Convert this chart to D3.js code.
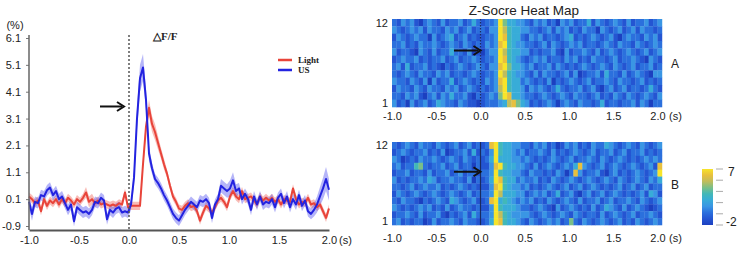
<!DOCTYPE html>
<html>
<head>
<meta charset="utf-8">
<script src="https://cdn.jsdelivr.net/npm/d3@7"></script>
<style>
  body { margin: 0; background: #fff; }
  svg text { font-family: "Liberation Sans", Arial, sans-serif; fill: #222; }
  svg text.serif { font-family: "Liberation Serif", "Times New Roman", serif; font-weight: bold; }
</style>
</head>
<body>
<div id="wrapper"></div>
<script>
// ---- data: mean trace (dF/F, %) with SEM, sampled every 0.03 s
const time = [
  -1.00, -0.97, -0.94, -0.91, -0.88, -0.85, -0.82, -0.79, -0.76, -0.73,
  -0.70, -0.67, -0.64, -0.61, -0.58, -0.55, -0.52, -0.49, -0.46, -0.43,
  -0.40, -0.37, -0.34, -0.31, -0.28, -0.25, -0.22, -0.19, -0.16, -0.13,
  -0.10, -0.07, -0.04, -0.01, 0.02, 0.05, 0.08, 0.11, 0.14, 0.17,
  0.20, 0.23, 0.26, 0.29, 0.32, 0.35, 0.38, 0.41, 0.44, 0.47,
  0.50, 0.53, 0.56, 0.59, 0.62, 0.65, 0.68, 0.71, 0.74, 0.77,
  0.80, 0.83, 0.86, 0.89, 0.92, 0.95, 0.98, 1.01, 1.04, 1.07,
  1.10, 1.13, 1.16, 1.19, 1.22, 1.25, 1.28, 1.31, 1.34, 1.37,
  1.40, 1.43, 1.46, 1.49, 1.52, 1.55, 1.58, 1.61, 1.64, 1.67,
  1.70, 1.73, 1.76, 1.79, 1.82, 1.85, 1.88, 1.91, 1.94, 1.97,
  2.00,
]
const lightMean = [
  0.2, 0.1, -0.05, 0.05, -0.35, 0.1, -0.15, 0.05, -0.05, 0.1,
  -0.1, 0.1, -0.05, 0.15, 0.05, -0.1, 0.1, 0.0, 0.15, 0.35,
  0.0, 0.1, -0.05, 0.05, -0.1, -0.05, -0.1, -0.15, -0.1, -0.15,
  -0.05, -0.1, 0.35, -0.2, -0.15, -0.15, -0.15, -0.15, 1.4, 2.8,
  3.5, 2.9, 2.6, 2.2, 1.8, 1.4, 1.05, 0.6, 0.2, 0.0,
  -0.25, -0.3, -0.15, -0.05, -0.2, -0.15, -0.35, -0.7, -0.4, -0.15,
  -0.25, -0.4, -0.2, 0.05, 0.15, 0.0, -0.2, 0.2, 0.4, 0.2,
  0.1, 0.4, 0.1, 0.15, 0.2, 0.05, -0.1, 0.2, 0.05, 0.15,
  0.05, 0.15, 0.0, 0.1, -0.1, 0.1, 0.05, 0.0, 0.5, 0.1,
  -0.1, 0.0, -0.05, 0.15, -0.1, -0.05, -0.2, -0.1, -0.35, -0.6,
  -0.25,
]
const lightSem = [
  0.15, 0.15, 0.15, 0.15, 0.15, 0.15, 0.15, 0.15, 0.15, 0.15,
  0.15, 0.15, 0.15, 0.15, 0.15, 0.15, 0.15, 0.15, 0.15, 0.2,
  0.2, 0.2, 0.15, 0.15, 0.15, 0.15, 0.15, 0.15, 0.15, 0.15,
  0.15, 0.15, 0.15, 0.15, 0.15, 0.15, 0.15, 0.15, 0.2, 0.25,
  0.3, 0.3, 0.3, 0.25, 0.2, 0.2, 0.15, 0.15, 0.15, 0.15,
  0.15, 0.15, 0.15, 0.15, 0.15, 0.15, 0.15, 0.15, 0.15, 0.15,
  0.15, 0.15, 0.15, 0.15, 0.15, 0.15, 0.15, 0.15, 0.15, 0.15,
  0.15, 0.15, 0.15, 0.15, 0.15, 0.15, 0.15, 0.15, 0.15, 0.15,
  0.15, 0.15, 0.15, 0.15, 0.15, 0.15, 0.15, 0.15, 0.15, 0.15,
  0.15, 0.15, 0.15, 0.15, 0.15, 0.15, 0.15, 0.15, 0.15, 0.15,
  0.15,
]
const usMean = [
  0.0, -0.45, 0.0, -0.05, 0.25, 0.2, 0.43, 0.53, 0.25, 0.4,
  0.1, 0.2, -0.05, -0.3, -0.1, -0.72, -0.2, -0.3, -0.4, -0.35,
  -0.45, -0.3, 0.0, -0.05, 0.15, 0.05, -0.65, -0.3, -0.4, -0.25,
  -0.2, -0.4, -0.35, -0.4, -0.1, 0.9, 3.1, 4.6, 5.0, 3.8,
  1.8, 1.25, 0.85, 0.7, 0.5, 0.25, 0.05, -0.2, -0.45, -0.6,
  -0.7, -0.5, -0.3, -0.15, 0.0, -0.1, -0.2, 0.05, 0.0, 0.1,
  -0.05, -0.6, -0.1, 0.1, 0.6, 0.5, 0.4, 0.5, 0.8, 0.4,
  0.5, 0.1, 0.3, 0.1, -0.3, 0.2, -0.1, 0.2, -0.1, 0.0,
  -0.05, 0.1, -0.2, 0.15, 0.3, -0.05, 0.2, -0.2, 0.1, -0.1,
  0.25, -0.15, 0.05, -0.35, -0.45, -0.3, -0.1, 0.2, 0.5, 0.85,
  0.45,
]
const usSem = [
  0.25, 0.25, 0.2, 0.2, 0.2, 0.2, 0.2, 0.2, 0.2, 0.2,
  0.2, 0.2, 0.2, 0.2, 0.2, 0.2, 0.2, 0.2, 0.2, 0.2,
  0.2, 0.2, 0.2, 0.2, 0.2, 0.2, 0.2, 0.2, 0.2, 0.2,
  0.2, 0.2, 0.2, 0.2, 0.2, 0.3, 0.4, 0.5, 0.5, 0.4,
  0.3, 0.2, 0.2, 0.2, 0.2, 0.2, 0.2, 0.2, 0.2, 0.2,
  0.2, 0.2, 0.2, 0.2, 0.2, 0.2, 0.2, 0.2, 0.2, 0.2,
  0.2, 0.2, 0.2, 0.2, 0.25, 0.25, 0.25, 0.3, 0.3, 0.25,
  0.2, 0.2, 0.2, 0.2, 0.2, 0.2, 0.2, 0.2, 0.2, 0.2,
  0.2, 0.2, 0.2, 0.2, 0.2, 0.2, 0.2, 0.2, 0.2, 0.2,
  0.2, 0.2, 0.2, 0.2, 0.2, 0.25, 0.3, 0.35, 0.4, 0.45,
  0.4,
]
const lineTicksY = [-0.9, 0.1, 1.1, 2.1, 3.1, 4.1, 5.1, 6.1]
const lineTicksX = [-1.0, -0.5, 0.0, 0.5, 1.0, 1.5, 2.0]

// ---- data: z-score heat maps, 12 trials x 61 bins of 0.05 s from -1.0 s
// each digit is a level: z = digit - 2 (so 0 -> -2 ... 9 -> 7)
const heatRows = [12, 11, 10, 9, 8, 7, 6, 5, 4, 3, 2, 1]
const heatTicksX = [-1.0, -0.5, 0.0, 0.5, 1.0, 1.5, 2.0]
const binWidth = 0.05
const heatA = [
  "21323 10232 13122 31242 12239 64433 21323 12032 31224 13212 32131 22312 3",
  "32123 23132 21323 12312 21339 75443 32212 31323 12132 20321 23123 13221 2",
  "13212 32203 12341 23121 12239 85442 13231 22123 41212 32123 10232 21323 1",
  "22312 13223 21232 13212 13238 95433 22123 13212 32312 21232 13221 32123 2",
  "31221 03213 12242 21301 02339 75443 31212 23103 12232 13123 21232 12312 3",
  "12322 31212 23123 12232 12239 85432 12323 12213 23121 32212 31223 21032 1",
  "23141 22312 10212 32123 21338 96443 23122 31321 21232 12321 32123 12231 2",
  "21232 13221 32312 21232 12239 75433 21313 22123 13012 23142 21312 32103 3",
  "32213 21303 12241 23212 13238 95442 32121 30212 32123 12232 13221 23121 2",
  "13221 32132 21323 12321 21237 95443 13232 12421 22312 31023 12312 21242 1",
  "22132 31023 13242 23102 12326 98443 22123 21232 13221 23121 32132 12321 3",
  "31203 12312 43221 32110 12223 47864 31212 32023 21322 12412 21223 13202 2",
]
const heatB = [
  "21232 13221 32123 12312 12895 44332 21323 12013 23121 32243 21232 13212 3",
  "12321 22312 13012 23141 21395 44323 12232 13121 23212 31223 12312 23121 2",
  "32012 13223 21232 13212 12494 44332 32121 23212 31223 21321 23212 12323 2",
  "23122 56212 23123 12202 11389 54433 21312 32123 24832 12312 32123 21231 8",
  "12231 22131 22312 31221 22395 44332 13221 21320 28312 23102 31212 32123 9",
  "31212 23243 12232 21302 12498 54423 22312 13212 32123 21232 13212 32132 4",
  "22123 12322 31212 32121 11389 54332 31212 32123 12312 32121 23123 12312 2",
  "13212 32123 21232 12312 22397 44433 12323 12412 31023 12312 32121 23143 1",
  "21322 10212 32143 21231 12894 54323 23121 32123 21312 23123 12232 13212 3",
  "32121 23231 21312 32212 11395 44432 21232 10312 32121 31243 21312 32101 2",
  "12232 13122 31021 23142 22397 54333 32123 21232 13212 21312 32123 12232 1",
  "23121 22013 12232 13221 12498 54432 13212 32312 62132 12321 23121 32123 2",
]
const colorbarTicks = [-2, -0.2, 1.6, 3.4, 5.2, 7]

const svg = d3.select("#wrapper")
  .append("svg")
    .attr("width", 747)
    .attr("height", 254)

// ---------------- left panel: traces ----------------
const xScale = d3.scaleLinear().domain([-1, 2]).range([29, 329])
const yScale = d3.scaleLinear().domain([-0.9, 6.1]).range([226, 38])

const series = [
  { name: "Light", mean: lightMean, sem: lightSem, color: "#e8443a", band: "#f06a60" },
  { name: "US", mean: usMean, sem: usSem, color: "#2323e0", band: "#5c5cf0" },
]

const areaGen = s => d3.area()
  .x((d, i) => xScale(time[i]))
  .y0((d, i) => yScale(s.mean[i] - s.sem[i]))
  .y1((d, i) => yScale(s.mean[i] + s.sem[i]))
const lineGen = s => d3.line()
  .x((d, i) => xScale(time[i]))
  .y((d, i) => yScale(s.mean[i]))

series.forEach(s => {
  svg.append("path")
    .attr("d", areaGen(s)(time))
    .attr("fill", s.band)
    .attr("fill-opacity", 0.45)
})
series.forEach(s => {
  svg.append("path")
    .attr("d", lineGen(s)(time))
    .attr("fill", "none")
    .attr("stroke", s.color)
    .attr("stroke-width", 2)
    .attr("stroke-linejoin", "round")
})

// stimulus onset
svg.append("line")
  .attr("x1", xScale(0)).attr("x2", xScale(0))
  .attr("y1", 35).attr("y2", 230)
  .attr("stroke", "#555")
  .attr("stroke-width", 1.5)
  .attr("stroke-dasharray", "2,2")

// axes
const yAxis = svg.append("g")
    .attr("transform", `translate(29,0)`)
    .call(d3.axisLeft(yScale).tickValues(lineTicksY).tickFormat(d => d.toFixed(1))
      .tickSize(3).tickPadding(5))
    .attr("font-size", 11)
    .attr("font-family", null)
yAxis.select(".domain").remove()
yAxis.selectAll(".tick line").attr("stroke", "#777")
svg.append("line")
  .attr("x1", 29).attr("x2", 29).attr("y1", 35).attr("y2", 230)
  .attr("stroke", "#666").attr("stroke-width", 1.5)

const xAxis = svg.append("g")
    .attr("transform", `translate(0,230)`)
    .call(d3.axisBottom(xScale).tickValues(lineTicksX).tickFormat(d => d.toFixed(1))
      .tickSize(0).tickPadding(6))
    .attr("font-size", 11)
    .attr("font-family", null)
xAxis.select(".domain").attr("stroke", "#555").attr("stroke-width", 2)

svg.append("text").attr("x", 15).attr("y", 29).attr("text-anchor", "middle")
  .attr("font-size", 11).text("(%)")
svg.append("text").attr("x", 339).attr("y", 244)
  .attr("font-size", 11).text("(s)")
svg.append("text").attr("class", "serif").attr("x", 153).attr("y", 40)
  .attr("font-size", 11).text("\u25B3F/F")

// legend
series.forEach((s, i) => {
  const ly = 60 + i * 10
  svg.append("line")
    .attr("x1", 278).attr("x2", 292).attr("y1", ly).attr("y2", ly)
    .attr("stroke", s.color).attr("stroke-width", 2.5)
  svg.append("text").attr("class", "serif")
    .attr("x", 298).attr("y", ly + 3)
    .attr("font-size", 9)
    .text(s.name)
})

// annotation arrow
const drawArrow = (x1, x2, y) => {
  svg.append("line")
    .attr("x1", x1).attr("x2", x2 - 2).attr("y1", y).attr("y2", y)
    .attr("stroke", "#111").attr("stroke-width", 2)
  svg.append("path")
    .attr("d", `M${x2 - 7},${y - 4.5} L${x2},${y} L${x2 - 7},${y + 4.5}`)
    .attr("fill", "none").attr("stroke", "#111").attr("stroke-width", 2)
}
drawArrow(xScale(-0.29), xScale(-0.05), yScale(3.55))

// ---------------- right panels: heat maps ----------------
const xHeat = d3.scaleLinear().domain([-1, 2]).range([392, 657.5])
const colorScale = d3.scaleLinear()
  .domain([-2, -1, 0, 1, 2, 3, 4, 5, 6, 7])
  .range(["#1c40c0", "#2455d2", "#2b70dd", "#3a96e4", "#38acd8", "#42b8b8",
          "#7abf88", "#c0bd5c", "#e8c03e", "#f7e42a"])

svg.append("text").attr("x", 524).attr("y", 15).attr("text-anchor", "middle")
  .attr("font-size", 13.5).text("Z-Socre Heat Map")

const panels = [
  { key: "A", rows: heatA, top: 19, bottom: 107, pad: 5, dash: "1.5,1.5" },
  { key: "B", rows: heatB, top: 142, bottom: 225, pad: 9, dash: null },
]

panels.forEach(p => {
  const yBand = d3.scaleBand().domain(heatRows).range([p.top, p.bottom])
  const cellW = xHeat(binWidth) - xHeat(0)
  const cells = []
  p.rows.forEach((row, ri) => {
    row.replace(/\s/g, "").split("").forEach((ch, ci) => {
      cells.push({ trial: heatRows[ri], start: -1 + ci * binWidth, z: +ch - 2 })
    })
  })
  const g = svg.append("g")
  g.selectAll("rect")
    .data(cells)
    .enter().append("rect")
      .attr("x", d => xHeat(d.start))
      .attr("y", d => yBand(d.trial))
      .attr("width", cellW + 0.3)
      .attr("height", yBand.bandwidth() + 0.3)
      .attr("fill", d => colorScale(d.z))

  // onset line
  svg.append("line")
    .attr("x1", xHeat(0)).attr("x2", xHeat(0))
    .attr("y1", p.top).attr("y2", p.bottom)
    .attr("stroke", "#1a2a60")
    .attr("stroke-width", 1.2)
    .attr("stroke-dasharray", p.dash)

  const ax = svg.append("g")
      .attr("transform", `translate(0,${p.bottom})`)
      .call(d3.axisBottom(xHeat).tickValues(heatTicksX).tickFormat(d => d.toFixed(1))
        .tickSize(0).tickPadding(p.pad))
      .attr("font-size", 11)
      .attr("font-family", null)
  ax.select(".domain").remove()
  svg.append("text").attr("x", 669).attr("y", p.bottom + p.pad + 8)
    .attr("font-size", 11).text("(s)")

  // trial labels
  ;[heatRows[0], heatRows[heatRows.length - 1]].forEach(t => {
    svg.append("text")
      .attr("x", 388).attr("y", yBand(t) + yBand.bandwidth() / 2)
      .attr("dy", "0.35em").attr("text-anchor", "end")
      .attr("font-size", 11).text(t)
  })
  svg.append("text").attr("x", 671).attr("y", (p.top + p.bottom) / 2 + 1)
    .attr("dy", "0.35em").attr("font-size", 12).text(p.key)

  const ay = yBand(8) + yBand.bandwidth() * 0.3
  drawArrow(xHeat(-0.3), xHeat(0.0), ay)
})

// colour bar
const cbScale = d3.scaleLinear().domain([-2, 7]).range([225, 169])
const grad = svg.append("defs").append("linearGradient")
  .attr("id", "cb").attr("x1", 0).attr("x2", 0).attr("y1", 1).attr("y2", 0)
colorScale.domain().forEach(v => {
  grad.append("stop")
    .attr("offset", (v + 2) / 9)
    .attr("stop-color", colorScale(v))
})
svg.append("rect")
  .attr("x", 702).attr("y", cbScale(7)).attr("width", 11)
  .attr("height", cbScale(-2) - cbScale(7))
  .attr("fill", "url(#cb)")
svg.selectAll(".cbtick")
  .data(colorbarTicks)
  .enter().append("line")
    .attr("class", "cbtick")
    .attr("x1", 716).attr("x2", 723)
    .attr("y1", d => cbScale(d)).attr("y2", d => cbScale(d))
    .attr("stroke", "#aaa").attr("stroke-width", 1)
svg.append("text").attr("x", 728).attr("y", cbScale(7) + 3).attr("dy", "0.35em")
  .attr("font-size", 12).text("7")
svg.append("text").attr("x", 726).attr("y", cbScale(-2) - 3).attr("dy", "0.35em")
  .attr("font-size", 12).text("-2")
</script>
</body>
</html>
